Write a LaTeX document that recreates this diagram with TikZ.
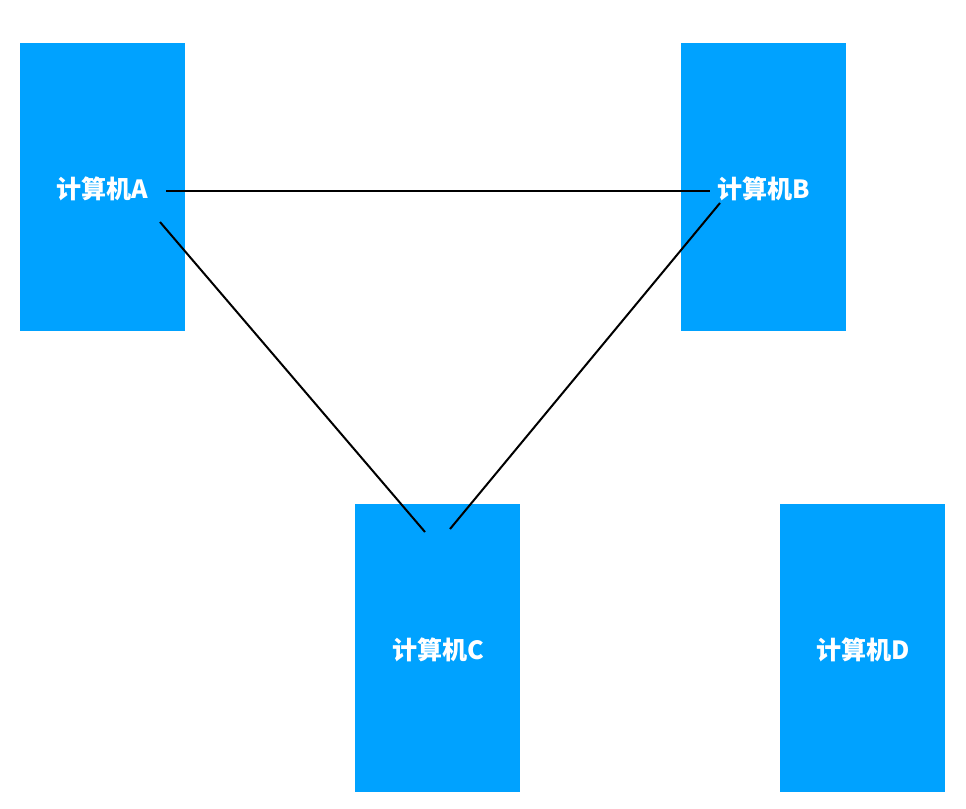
\documentclass[tikz,border=0pt]{standalone}
\usepackage{fontspec}
\newfontfamily\cjk{Noto Sans CJK SC}
\definecolor{boxblue}{HTML}{00A2FF}
\begin{document}
\begin{tikzpicture}[x=0.75pt,y=-0.75pt,
  pc/.style={fill=boxblue,draw=none,minimum width=165*0.75pt,minimum height=288*0.75pt,inner sep=0pt},
  lbl/.style={text=white,font=\cjk\bfseries\fontsize{18.8}{22}\selectfont,inner sep=0pt},
  link/.style={black,line width=2pt*0.75}]
\useasboundingbox[fill=white] (0,0) rectangle (966,809);
\node[pc] (A) at (102.5,187) {};
\node[pc] (B) at (763.5,187) {};
\node[pc] (C) at (437.5,648) {};
\node[pc] (D) at (862.5,648) {};
\node[lbl] (la) at (102.5,189) {计算机A};
\node[lbl] (lb) at (763.5,189) {计算机B};
\node[lbl] (lc) at (438,650) {计算机C};
\node[lbl] (ld) at (863,650) {计算机D};
\coordinate (a1) at (166,191);
\coordinate (b1) at (710,191);
\coordinate (a2) at (160,222);
\coordinate (c1) at (425,532);
\coordinate (b2) at (720,203);
\coordinate (c2) at (450,529);
\draw[link] (a1) -- (b1);
\draw[link] (a2) -- (c1);
\draw[link] (b2) -- (c2);
\end{tikzpicture}
\end{document}
